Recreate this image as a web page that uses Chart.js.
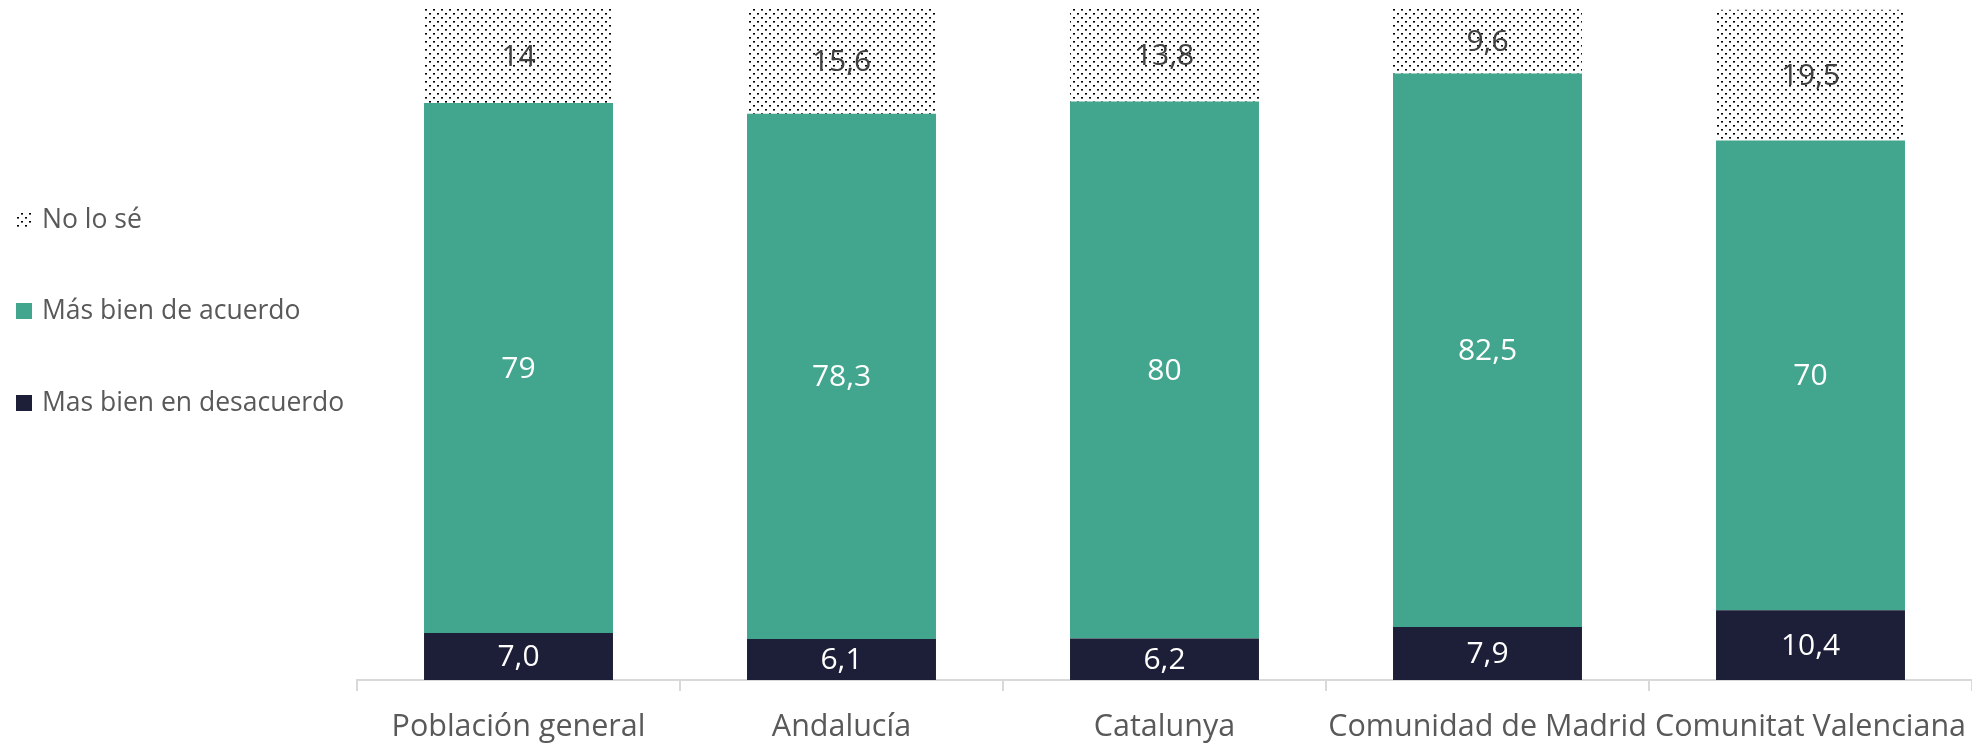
<!DOCTYPE html>
<html><head><meta charset="utf-8">
<script src="https://cdn.jsdelivr.net/npm/chart.js@4/dist/chart.umd.min.js"></script>
<style>html,body{margin:0;padding:0;background:#fff;overflow:hidden}#wrap{width:1972px;height:747px;position:relative}</style>
</head><body><div id="wrap"><canvas id="c"></canvas></div>
<script>
const categories = ['Población general', 'Andalucía', 'Catalunya', 'Comunidad de Madrid', 'Comunitat Valenciana'];
const desacuerdo = [7.0, 6.1, 6.2, 7.9, 10.4];
const acuerdo = [79, 78.3, 80, 82.5, 70];
const noLoSe = [14, 15.6, 13.8, 9.6, 19.5];
const seriesNames = ['Mas bien en desacuerdo', 'Más bien de acuerdo', 'No lo sé'];

const FONT = "'Open Sans', 'Noto Sans', sans-serif";
const canvas = document.getElementById('c');
const ctx0 = canvas.getContext('2d');

function makeDots() {
  const t = document.createElement('canvas');
  t.width = 8; t.height = 8;
  const c = t.getContext('2d');
  c.fillStyle = '#fff'; c.fillRect(0, 0, 8, 8);
  c.fillStyle = '#000';
  c.fillRect(1, 1, 2, 1);
  c.fillRect(5, 5, 2, 1);
  c.fillStyle = '#666';
  c.fillRect(1, 2, 2, 1);
  c.fillRect(5, 6, 2, 1);
  return ctx0.createPattern(t, 'repeat');
}
const dots = makeDots();
const colors = ['#1C1F37', '#42A58E', dots];
const labelColors = ['#ffffff', '#ffffff', '#404040'];

function fmt(dsIndex, v) {
  if (dsIndex === 0) return v.toFixed(1).replace('.', ',');
  return String(v).replace('.', ',');
}

const dataLabels = {
  id: 'dataLabels',
  afterDatasetsDraw(chart) {
    const ctx = chart.ctx;
    ctx.save();
    ctx.font = '30px ' + FONT;
    ctx.textAlign = 'center';
    ctx.textBaseline = 'middle';
    chart.data.datasets.forEach((ds, i) => {
      const meta = chart.getDatasetMeta(i);
      meta.data.forEach((el, j) => {
        const p = el.getProps(['x', 'y', 'base'], true);
        ctx.fillStyle = labelColors[i];
        ctx.fillText(fmt(i, ds.data[j]), p.x, (p.y + p.base) / 2 + 1);
      });
    });
    ctx.restore();
  }
};

const sideLegend = {
  id: 'sideLegend',
  afterDraw(chart) {
    const ctx = chart.ctx;
    ctx.save();
    ctx.font = '26.5px ' + FONT;
    ctx.textBaseline = 'middle';
    ctx.textAlign = 'left';
    const order = [2, 1, 0];
    const ys = [220, 311, 403];
    order.forEach((di, k) => {
      const y = ys[k];
      ctx.fillStyle = colors[di];
      ctx.fillRect(16, y - 8, 16, 16);
      ctx.fillStyle = '#595959';
      ctx.fillText(seriesNames[di], 42, y);
    });
    ctx.restore();
  }
};

const datasets = [desacuerdo, acuerdo, noLoSe].map((d, i) => ({
  label: seriesNames[i],
  data: d,
  backgroundColor: colors[i],
  borderWidth: 0,
  categoryPercentage: 1.0,
  barPercentage: 0.585
}));

new Chart(canvas, {
  type: 'bar',
  data: { labels: categories, datasets },
  options: {
    responsive: true,
    maintainAspectRatio: false,
    animation: false,
    layout: { padding: { left: 357, top: 9, right: 0, bottom: 0 } },
    plugins: { legend: { display: false }, tooltip: { enabled: false } },
    scales: {
      x: {
        stacked: true,
        afterFit(s) { s.height = 67; s.paddingLeft = 0; s.paddingRight = 0; },
        grid: { display: true, drawOnChartArea: false, drawTicks: true, tickLength: 11, offset: true, color: '#d9d9d9', lineWidth: 2 },
        border: { display: true, color: '#d9d9d9', width: 2 },
        ticks: { color: '#595959', font: { family: FONT, size: 30.5 }, padding: 18, maxRotation: 0, autoSkip: false }
      },
      y: {
        stacked: true, display: false, min: 0, max: 100
      }
    }
  },
  plugins: [dataLabels, sideLegend]
});
</script>
</body></html>
